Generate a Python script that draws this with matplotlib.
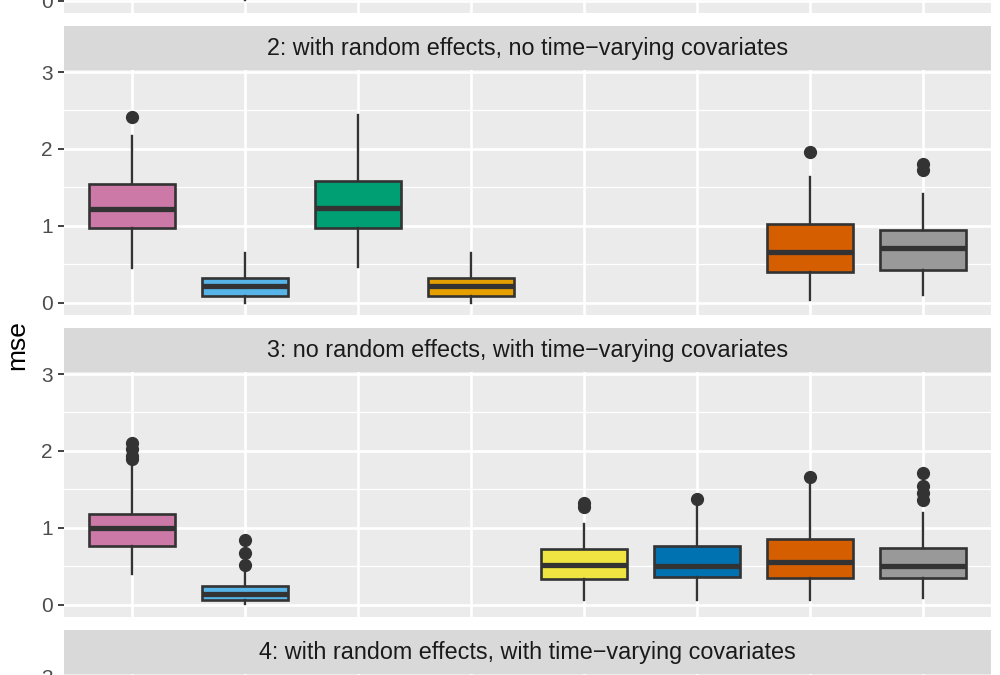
import matplotlib
matplotlib.use('Agg')
import matplotlib.pyplot as plt

plt.rcParams['font.family'] = ['Liberation Sans', 'DejaVu Sans']

# 8 methods along x, colour per method (Okabe-Ito)
methods = ['m1', 'm2', 'm3', 'm4', 'm5', 'm6', 'm7', 'm8']
colors = ['#CC79A7', '#56B4E9', '#009E73', '#E69F00',
          '#F0E442', '#0072B2', '#D55E00', '#999999']

titles = ['1: no random effects, no time\u2212varying covariates',
          '2: with random effects, no time\u2212varying covariates',
          '3: no random effects, with time\u2212varying covariates',
          '4: with random effects, with time\u2212varying covariates']

# box stats per panel: method index -> (whislo, q1, med, q3, whishi, fliers)
# panel 1 and 4 are almost entirely out of the crop
p1_idx = [1]
p1_stats = [(0.01, 0.09, 0.2, 0.33, 0.62, [])]

p2_idx = [0, 1, 2, 3, 6, 7]
p2_stats = [
    (0.46, 0.98, 1.22, 1.55, 2.17, [2.42]),
    (0.00, 0.09, 0.22, 0.33, 0.65, []),
    (0.47, 0.98, 1.23, 1.58, 2.44, []),
    (0.00, 0.09, 0.22, 0.33, 0.65, []),
    (0.04, 0.40, 0.66, 1.03, 1.64, [1.965]),
    (0.10, 0.43, 0.71, 0.95, 1.42, [1.73, 1.80]),
]

p3_idx = [0, 1, 4, 5, 6, 7]
p3_stats = [
    (0.40, 0.76, 1.00, 1.18, 1.81, [1.90, 1.93, 2.02, 2.10]),
    (0.01, 0.07, 0.14, 0.25, 0.45, [0.52, 0.67, 0.84]),
    (0.065, 0.34, 0.52, 0.725, 1.05, [1.27, 1.33]),
    (0.065, 0.37, 0.51, 0.77, 1.28, [1.375]),
    (0.07, 0.35, 0.56, 0.86, 1.60, [1.66]),
    (0.09, 0.355, 0.51, 0.745, 1.20, [1.37, 1.455, 1.54, 1.72]),
]

p4_idx = []
p4_stats = []

panels = [(p1_idx, p1_stats), (p2_idx, p2_stats),
          (p3_idx, p3_stats), (p4_idx, p4_stats)]

W, H = 1000, 675
fig = plt.figure(figsize=(W / 100, H / 100), dpi=100)
fig.patch.set_facecolor('white')

left, right = 64, 991
period, plot_h, strip_h = 302, 245, 44
dark = '#333333'

for i, (idx, stats) in enumerate(panels):
    top = 70 + (i - 1) * period
    ax = fig.add_axes([left / W, 1 - (top + plot_h) / H,
                       (right - left) / W, plot_h / H])
    ax.set_facecolor('#EBEBEB')
    for s in ax.spines.values():
        s.set_visible(False)
    ax.set_xlim(0.4, 8.6)
    ax.set_ylim(-0.156, 3.026)
    ax.set_yticks([0, 1, 2, 3])
    ax.set_yticks([0.5, 1.5, 2.5], minor=True)
    ax.set_xticks(range(1, 9))
    ax.tick_params(axis='x', length=0, labelbottom=False)
    ax.tick_params(axis='y', which='major', length=4, width=1.3, color=dark,
                   labelsize=15, labelcolor='#4D4D4D', pad=4)
    ax.tick_params(axis='y', which='minor', length=0)
    ax.grid(True, which='major', color='white', linewidth=1.9)
    ax.grid(True, which='minor', axis='y', color='white', linewidth=0.9)
    ax.set_axisbelow(True)

    if stats:
        bxp = []
        for (lo, q1, med, q3, hi, fl) in stats:
            bxp.append(dict(whislo=lo, q1=q1, med=med, q3=q3, whishi=hi, fliers=fl))
        pos = [k + 1 for k in idx]
        b = ax.bxp(bxp, positions=pos, widths=0.76, patch_artist=True,
                   showcaps=False,
                   boxprops=dict(edgecolor=dark, linewidth=1.9),
                   medianprops=dict(color=dark, linewidth=3.8, solid_capstyle='butt'),
                   whiskerprops=dict(color=dark, linewidth=1.7),
                   flierprops=dict(marker='o', markerfacecolor=dark,
                                   markeredgecolor=dark, markersize=8.5))
        for patch, k in zip(b['boxes'], idx):
            patch.set_facecolor(colors[k])
        ax.set_xlim(0.4, 8.6)
        ax.set_xticks(range(1, 9))
        ax.set_xticklabels([])

    # facet strip
    sax = fig.add_axes([left / W, 1 - top / H, (right - left) / W, strip_h / H])
    sax.set_facecolor('#D9D9D9')
    sax.set_xticks([])
    sax.set_yticks([])
    for s in sax.spines.values():
        s.set_visible(False)
    sax.text(0.5, 0.5, titles[i], ha='center', va='center',
             fontsize=16.8, color='#1A1A1A', transform=sax.transAxes)

fig.text(17 / W, 1 - 345 / H, 'mse', rotation=90, ha='center', va='center',
         fontsize=19, color='black')

fig.savefig('out.png', dpi=100)
